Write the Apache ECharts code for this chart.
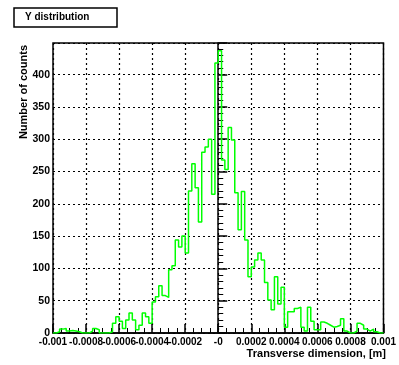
<!DOCTYPE html>
<html><head><meta charset="utf-8">
<script src="https://cdn.jsdelivr.net/npm/echarts@6/dist/echarts.min.js"></script>
<style>html,body{margin:0;padding:0;background:#fff}#c{width:399px;height:365px}</style>
</head><body><div id="c"></div>
<script>
const titleText = 'Y distribution';
const xTitle = 'Transverse dimension, [m]';
const yTitle = 'Number of counts';
const xMin = -0.001, xMax = 0.001, xStep = 0.0002;
const xTickLabels = ['-0.001','-0.0008','-0.0006','-0.0004','-0.0002','-0','0.0002','0.0004','0.0006','0.0008','0.001'];
const yMax = 449, yStep = 50;
const yTickLabels = ['0','50','100','150','200','250','300','350','400'];
const counts = [
  0, 2, 6, 7, 3, 4, 3, 2, 0, 0,
  0, 3, 7, 5, 0, 0, 0, 2, 15, 25,
  18, 7, 20, 31, 20, 5, 12, 31, 25, 15,
  48, 56, 73, 58, 55, 98, 104, 144, 133, 150,
  124, 220, 262, 225, 172, 280, 288, 300, 215, 418,
  437, 268, 253, 318, 299, 217, 160, 219, 144, 87,
  102, 113, 124, 113, 78, 51, 36, 87, 45, 71,
  9, 33, 33, 38, 40, 9, 3, 40, 18, 5,
  5, 17, 15, 12, 9, 10, 12, 22, 3, 0,
  0, 3, 15, 12, 6, 3, 6, 2, 0, 0
];

const binW = (xMax - xMin) / counts.length;
const pts = [[xMin, counts[0]]].concat(
  counts.map((c, i) => [xMin + (i + 0.5) * binW, c]),
  [[xMax, counts[counts.length - 1]]]
);

const font = 'Liberation Sans';
const chart = echarts.init(document.getElementById('c'), null, {renderer: 'canvas'});
chart.setOption({
  animation: false,
  backgroundColor: '#fff',
  grid: {left: 53, right: 10, top: 43, bottom: 32, show: true, borderColor: '#000', borderWidth: 1.5, backgroundColor: 'transparent'},
  xAxis: {
    type: 'value', min: xMin, max: xMax, interval: xStep,
    axisLine: {show: true, onZero: false, lineStyle: {color: '#000', width: 1.5}},
    axisTick: {show: true, inside: true, length: 9, lineStyle: {color: '#000', width: 1.5}},
    minorTick: {show: true, splitNumber: 4, length: 5, lineStyle: {color: '#000', width: 1}},
    splitLine: {show: true, lineStyle: {color: '#000', type: [2, 3], width: 1.2}},
    axisLabel: {
      color: '#000', fontFamily: font, fontWeight: 'bold', fontSize: 10, margin: 4,
      showMinLabel: true, showMaxLabel: true, hideOverlap: false,
      formatter: v => { const k = Math.round((v - xMin) / xStep); return xTickLabels[k] !== undefined ? xTickLabels[k] : ''; }
    }
  },
  yAxis: {
    type: 'value', min: 0, max: yMax, interval: yStep,
    axisLine: {show: true, lineStyle: {color: '#000', width: 1.5}},
    axisTick: {show: true, inside: true, length: 9, lineStyle: {color: '#000', width: 1.5}},
    minorTick: {show: true, splitNumber: 5, length: 5, lineStyle: {color: '#000', width: 1}},
    splitLine: {show: true, lineStyle: {color: '#000', type: [2, 3], width: 1.2}},
    axisLabel: {
      color: '#000', fontFamily: font, fontWeight: 'bold', fontSize: 10.5, margin: 3,
      showMinLabel: true, hideOverlap: false,
      formatter: v => { const k = Math.round(v / yStep); return (Math.abs(v - k * yStep) < 1e-6 && yTickLabels[k] !== undefined) ? yTickLabels[k] : ''; }
    }
  },
  series: [{
    type: 'line', data: pts, step: 'middle', showSymbol: false,
    lineStyle: {color: '#00ff00', width: 1.5}, z: 3
  }],
  graphic: [
    {type: 'rect', shape: {x: 14, y: 8, width: 103, height: 19}, style: {fill: '#fff', stroke: '#000', lineWidth: 1.5}},
    {type: 'text', x: 25, y: 17.5, style: {text: titleText, font: 'bold 10px ' + font, fill: '#000', textVerticalAlign: 'middle', textAlign: 'left'}},
    {type: 'text', x: 24, y: 45, rotation: Math.PI / 2, style: {text: yTitle, font: 'bold 11px ' + font, fill: '#000', textAlign: 'right', textVerticalAlign: 'middle'}},
    {type: 'text', x: 386, y: 354, style: {text: xTitle, font: 'bold 11px ' + font, fill: '#000', textAlign: 'right', textVerticalAlign: 'middle'}}
  ]
});
</script>
</body></html>
